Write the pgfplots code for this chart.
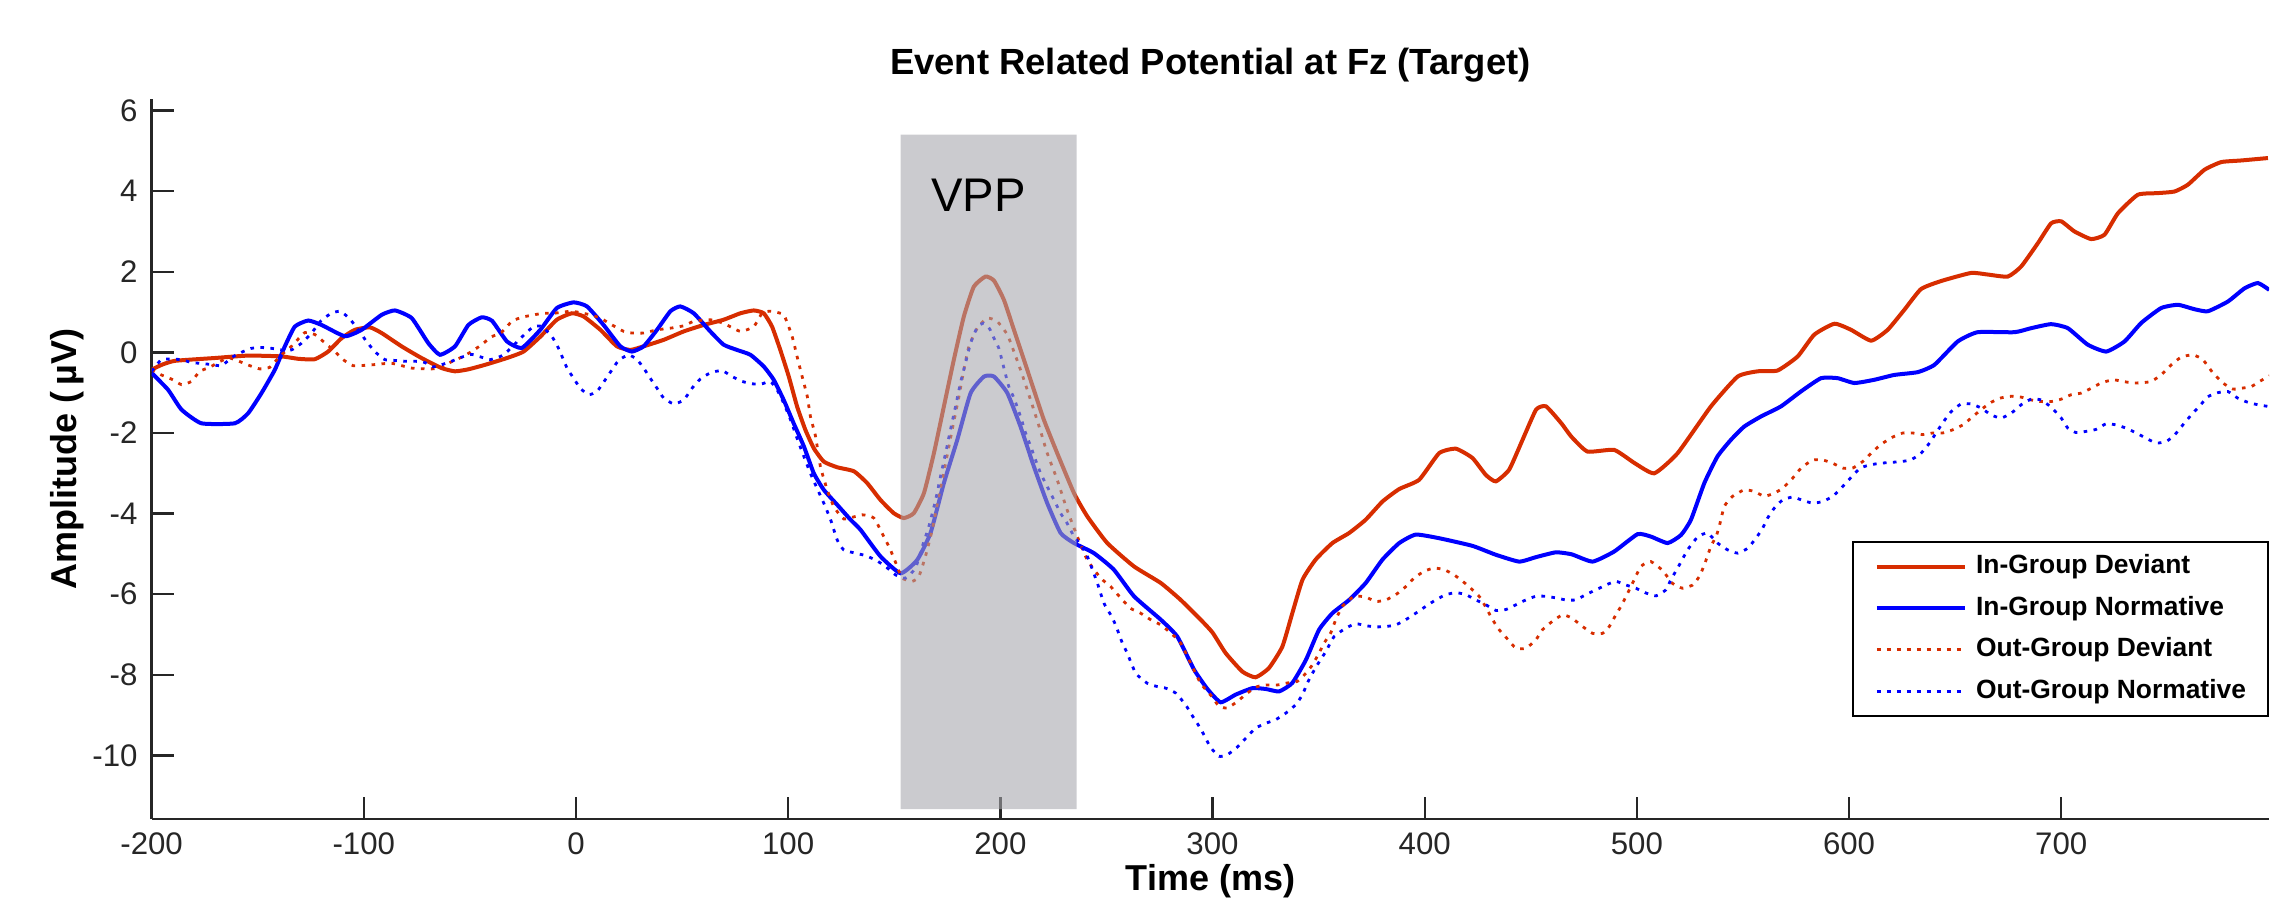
\documentclass[border=0pt]{standalone}
\usepackage{fontspec}
\setmainfont{Liberation Sans}
\usepackage{pgfplots}
\pgfplotsset{compat=1.18}
\definecolor{ered}{RGB}{215,45,0}
\definecolor{eblue}{RGB}{0,0,255}
\definecolor{patch}{RGB}{166,166,172}
\begin{document}
\begin{tikzpicture}
\path[use as bounding box] (-37.9pt,-20.2pt) rectangle (534.6pt,204.8pt);
\begin{axis}[
  scale only axis, width=529.4pt, height=180pt,
  xmin=-200, xmax=798, ymin=-11.58, ymax=6.28,
  axis x line*=bottom, axis y line*=left,
  axis line style={-, line width=0.6pt, black!85},
  tick align=inside, major tick length=5.5pt,
  every tick/.style={line width=0.6pt, black!85},
  xtick={-200,-100,...,700}, ytick={-10,-8,...,6},
  /pgf/number format/assume math mode=true,
  tick label style={font=\fontsize{7.8}{9}\selectfont, text=black!85},
  xticklabel style={anchor=base, yshift=-8.9pt},
  title={Event Related Potential at Fz (Target)},
  every axis title/.style={font=\bfseries\fontsize{9.1}{11}\selectfont, at={(axis description cs:0.5,1.0338)}, anchor=base},
  xlabel={Time (ms)},
  every axis x label/.style={at={(axis description cs:0.5,-0.0992)}, anchor=base, font=\bfseries\fontsize{9}{11}\selectfont},
  ylabel={Amplitude (\,µV)},
  every axis y label/.style={at={(axis description cs:-0.0399,0.5)}, anchor=center, rotate=90, font=\bfseries\fontsize{9}{11}\selectfont},
  legend style={at={(1,0.1417)}, anchor=south east, draw=black, line width=0.6pt,
    font=\bfseries\fontsize{6.6}{8}\selectfont, inner xsep=5.5pt, inner ysep=2.9pt,
    nodes={inner sep=0pt, text height=5pt, text depth=1.5pt}, row sep=3.9pt, column sep=2.3pt},
  legend cell align=left,
  legend image code/.code={\draw[#1] (0pt,0pt) -- (22pt,0pt);},
]
% In-Group Deviant
\addplot[ered, line width=1pt, smooth, tension=0.3] table {
x y
-200 -0.43
-195.3 -0.31
-189 -0.21
-170.2 -0.14
-154.5 -0.08
-138.8 -0.10
-130.9 -0.16
-123.1 -0.17
-116.8 0.02
-110.5 0.35
-104.2 0.56
-97.1 0.62
-91.6 0.48
-82.2 0.15
-72.8 -0.14
-63.3 -0.39
-57.0 -0.47
-50.7 -0.42
-42.9 -0.31
-32.5 -0.14
-24.7 0.02
-16.8 0.39
-9.0 0.81
-1.9 0.97
3.6 0.89
11.5 0.56
19.3 0.15
25.6 0.06
31.9 0.15
41.3 0.31
50.8 0.52
60.2 0.68
69.6 0.81
77.5 0.97
83.8 1.04
88.5 0.97
92.4 0.64
96.3 0.06
100.3 -0.60
104.2 -1.34
108.1 -1.92
112.1 -2.38
116.8 -2.71
123.1 -2.85
131.0 -2.95
137.2 -3.24
143.5 -3.66
149.8 -3.99
154.5 -4.11
159.2 -3.99
164.0 -3.49
168.7 -2.50
173.4 -1.34
178.1 -0.18
182.8 0.89
187.5 1.63
193.0 1.88
197.0 1.78
201.7 1.30
206.4 0.56
211.1 -0.18
215.8 -0.93
220.5 -1.67
226.8 -2.50
234.7 -3.49
241.0 -4.07
250.4 -4.73
263.0 -5.31
275.6 -5.72
285.0 -6.14
294.4 -6.63
300.0 -6.95
306.2 -7.46
314.1 -7.92
320.3 -8.06
326.6 -7.83
332.9 -7.30
337.6 -6.47
342.4 -5.64
348.6 -5.14
356.5 -4.73
364.4 -4.48
372.2 -4.15
380.1 -3.70
388.0 -3.39
397.4 -3.16
406.8 -2.50
414.7 -2.39
422.5 -2.62
428.8 -3.04
433.5 -3.20
439.8 -2.91
446.1 -2.17
452.5 -1.42
457.2 -1.34
464.4 -1.76
469.1 -2.09
476.7 -2.46
489.3 -2.42
499.0 -2.75
508.2 -3.00
519.2 -2.50
534.9 -1.34
547.5 -0.60
556.9 -0.47
566.3 -0.45
575.8 -0.10
583.6 0.44
593.1 0.71
600.9 0.56
610.4 0.29
618.2 0.56
626.1 1.06
633.9 1.57
643.4 1.77
657.5 1.97
665.4 1.93
674.8 1.88
681.1 2.13
689.0 2.71
695.2 3.20
700.0 3.25
706.2 3.00
714.1 2.81
720.4 2.92
726.7 3.45
736.1 3.91
745.5 3.95
753.4 3.99
759.7 4.16
767.5 4.53
775.4 4.72
784.8 4.76
797.4 4.82
};
\addlegendentry{In-Group Deviant}
% In-Group Normative
\addplot[eblue, line width=1pt, smooth, tension=0.3] table {
x y
-200 -0.51
-192.2 -0.93
-185.9 -1.42
-176.5 -1.76
-160.8 -1.76
-154.5 -1.51
-148.2 -1.01
-141.9 -0.43
-137.2 0.15
-132.5 0.64
-126.2 0.79
-119.9 0.68
-108.9 0.40
-101.0 0.56
-91.6 0.93
-85.3 1.04
-77.4 0.85
-69.6 0.23
-64.1 -0.06
-57.0 0.15
-50.7 0.68
-44.4 0.87
-39.5 0.78
-32.5 0.27
-25.5 0.11
-16.8 0.56
-9.0 1.10
-1.1 1.24
5.2 1.14
13.0 0.68
20.9 0.15
26.4 0.02
31.9 0.15
38.2 0.56
44.5 1.02
49.2 1.14
55.5 0.97
63.3 0.52
69.6 0.19
75.9 0.06
82.2 -0.06
88.5 -0.35
93.2 -0.68
97.9 -1.18
102.6 -1.76
107.4 -2.33
112.1 -3.00
116.8 -3.41
123.1 -3.78
129.4 -4.15
134.1 -4.40
143.5 -5.06
153.0 -5.48
160.8 -5.15
167.1 -4.48
173.4 -3.24
179.7 -2.17
186.0 -1.01
192.3 -0.60
197.0 -0.60
203.3 -1.01
209.5 -1.84
215.8 -2.83
222.1 -3.74
228.4 -4.48
234.7 -4.73
244.1 -4.98
253.5 -5.39
263.0 -6.05
275.6 -6.63
283.4 -7.05
291.3 -7.87
297.6 -8.35
303.8 -8.68
310.9 -8.49
318.8 -8.33
325.1 -8.35
331.4 -8.41
337.6 -8.20
344.0 -7.63
350.2 -6.88
356.5 -6.47
364.4 -6.14
372.2 -5.72
380.1 -5.14
388.0 -4.73
395.8 -4.52
406.8 -4.61
422.5 -4.80
433.5 -5.02
444.5 -5.19
452.4 -5.08
461.8 -4.96
469.3 -5.01
479.1 -5.19
489.3 -4.94
500.3 -4.51
506.6 -4.57
514.5 -4.73
520.8 -4.53
525.5 -4.15
531.8 -3.24
538.0 -2.58
544.3 -2.17
550.6 -1.84
558.5 -1.59
567.9 -1.34
577.3 -0.97
586.8 -0.64
594.6 -0.64
602.5 -0.76
611.9 -0.68
621.3 -0.56
632.4 -0.49
640.2 -0.31
651.2 0.27
660.6 0.50
677.9 0.50
685.8 0.60
695.2 0.70
703.1 0.60
712.5 0.19
721.2 0.02
729.8 0.27
737.7 0.73
747.1 1.10
755.0 1.18
762.8 1.07
769.1 1.02
778.5 1.26
786.4 1.59
792.7 1.72
798.0 1.55
};
\addlegendentry{In-Group Normative}
% Out-Group Deviant
\addplot[ered, line width=0.7pt, dash pattern=on 0.9pt off 1.6pt, smooth, tension=0.3] table {
x y
-200 -0.43
-195.4 -0.56
-189.9 -0.68
-185.9 -0.80
-181.2 -0.72
-177.3 -0.47
-172.6 -0.37
-167.9 -0.23
-163.1 -0.14
-153.7 -0.33
-149.0 -0.41
-144.3 -0.37
-139.6 -0.10
-134.1 0.15
-127.8 0.49
-123.0 0.44
-119.1 0.27
-114.4 0.06
-109.7 -0.18
-105.0 -0.33
-96.3 -0.31
-86.9 -0.27
-77.5 -0.39
-68.0 -0.41
-63.3 -0.37
-58.6 -0.23
-53.9 -0.12
-49.2 0.02
-44.5 0.19
-40.0 0.38
-35.0 0.50
-30.2 0.77
-25.5 0.87
-20.0 0.93
-15.3 0.97
-10.5 0.97
-1.9 1.02
6.8 0.93
11.5 0.85
17.0 0.68
22.5 0.52
26.4 0.48
31.9 0.48
38.2 0.56
44.5 0.60
50.8 0.66
55.5 0.77
63.3 0.81
69.6 0.72
77.5 0.52
83.8 0.64
87.7 0.97
91.6 1.02
97.9 0.93
101.9 0.39
104.2 -0.10
106.6 -0.60
109.0 -1.09
110.5 -1.59
112.9 -2.08
115.2 -2.83
118.4 -3.41
121.5 -3.82
126.2 -4.13
134.9 -4.03
140.4 -4.11
145.1 -4.57
148.2 -4.90
151.4 -5.31
153.7 -5.60
158.5 -5.68
161.6 -5.56
164.7 -5.06
167.9 -4.40
171.0 -3.57
174.2 -2.75
177.3 -1.92
180.5 -1.09
182.8 -0.43
185.2 0.15
189.1 0.60
193.8 0.85
198.5 0.77
203.3 0.44
206.4 0.02
209.5 -0.43
212.7 -0.93
215.8 -1.43
219.0 -1.96
222.1 -2.50
226.8 -3.16
231.5 -3.91
236.3 -4.57
241.0 -5.15
247.3 -5.60
252.0 -5.81
256.7 -6.09
261.4 -6.35
266.1 -6.47
270.8 -6.63
275.6 -6.76
280.3 -6.96
285.0 -7.21
289.7 -7.71
294.4 -8.21
299.1 -8.50
303.1 -8.78
307.0 -8.82
311.7 -8.66
316.4 -8.45
321.1 -8.29
325.9 -8.25
330.6 -8.25
335.3 -8.20
340.0 -8.16
344.0 -7.96
347.1 -7.75
350.2 -7.46
352.6 -7.21
355.7 -6.96
358.1 -6.63
361.2 -6.30
366.7 -6.05
372.2 -6.07
377.0 -6.18
381.7 -6.14
386.4 -6.01
391.1 -5.81
395.0 -5.60
399.7 -5.43
404.4 -5.35
409.2 -5.39
413.9 -5.52
418.6 -5.71
422.5 -5.89
426.4 -6.10
432.0 -6.63
435.1 -6.88
439.0 -7.11
443.0 -7.34
447.7 -7.34
452.4 -7.13
455.5 -6.88
460.2 -6.67
465.0 -6.51
469.3 -6.59
474.4 -6.80
479.1 -6.97
483.8 -6.97
487.0 -6.80
490.1 -6.51
492.5 -6.30
494.8 -6.06
497.2 -5.81
501.9 -5.31
506.6 -5.19
512.1 -5.41
516.8 -5.73
521.5 -5.85
526.3 -5.77
529.4 -5.56
531.8 -5.27
534.9 -4.81
537.3 -4.57
538.8 -4.32
541.2 -3.82
545.1 -3.57
550.6 -3.41
555.3 -3.45
560.1 -3.57
564.8 -3.49
568.7 -3.37
573.4 -3.12
577.4 -2.87
582.8 -2.67
587.6 -2.67
592.3 -2.75
597.0 -2.87
601.7 -2.87
606.4 -2.71
610.4 -2.50
615.1 -2.28
620.6 -2.10
625.3 -2.00
630.0 -2.00
634.7 -2.04
639.4 -2.00
644.1 -2.00
648.9 -1.92
653.6 -1.80
657.5 -1.63
662.2 -1.42
666.9 -1.24
671.6 -1.13
676.4 -1.09
681.1 -1.11
685.8 -1.18
690.5 -1.22
695.2 -1.22
700.0 -1.16
704.7 -1.05
709.4 -1.01
714.1 -0.89
718.8 -0.76
724.3 -0.68
729.0 -0.72
733.7 -0.76
738.5 -0.75
742.4 -0.72
747.1 -0.56
751.8 -0.31
756.5 -0.12
762.0 -0.06
766.7 -0.18
771.5 -0.51
776.2 -0.76
780.9 -0.91
784.8 -0.89
789.5 -0.85
793.5 -0.72
798.2 -0.58
};
\addlegendentry{Out-Group Deviant}
% Out-Group Normative
\addplot[eblue, line width=0.7pt, dash pattern=on 0.9pt off 1.6pt, smooth, tension=0.3] table {
x y
-200 -0.47
-195.4 -0.18
-190.6 -0.17
-185.9 -0.18
-181.2 -0.25
-172 -0.30
-167 -0.33
-162 -0.12
-157.7 0.00
-153.0 0.10
-148.2 0.12
-143.5 0.10
-138.8 0.06
-134.1 0.06
-129.3 0.23
-124.6 0.48
-119.9 0.80
-115.2 0.97
-111 1.02
-106.6 0.83
-102.6 0.56
-98.7 0.27
-94.8 0.02
-90.1 -0.18
-85.4 -0.20
-80.7 -0.22
-76.0 -0.22
-71.3 -0.25
-67.4 -0.36
-63.0 -0.30
-58.6 -0.22
-53.9 -0.12
-49.2 -0.05
-44.5 -0.12
-40.4 -0.18
-34.1 -0.06
-25.5 0.38
-20.0 0.64
-16.0 0.64
-11.3 0.39
-8.2 0.10
-4.2 -0.39
-1.1 -0.64
2.0 -0.89
6.0 -1.05
9.9 -0.97
13.8 -0.68
17.0 -0.43
20.1 -0.20
24.8 -0.06
28.8 -0.18
31.9 -0.39
35.0 -0.64
38.2 -0.89
41.3 -1.13
46.1 -1.28
50.8 -1.18
54.7 -0.89
58.6 -0.66
63.3 -0.51
68.8 -0.45
73.6 -0.60
78.3 -0.72
83.0 -0.78
87.7 -0.78
91.6 -0.72
94.8 -0.93
97.9 -1.26
101.1 -1.67
104.2 -2.13
107.4 -2.58
110.5 -3.00
113.6 -3.37
116.8 -3.74
120.0 -4.15
123.1 -4.65
126.2 -4.90
131.7 -4.98
136.4 -5.04
141.2 -5.15
145.9 -5.31
150.6 -5.52
155.3 -5.60
160.0 -5.35
163.2 -4.82
166.3 -4.32
169.5 -3.66
171.8 -3.08
174.2 -2.50
176.5 -1.92
178.9 -1.34
181.2 -0.76
183.6 -0.26
186.0 0.23
189.1 0.62
192.0 0.72
195.0 0.58
197.0 0.35
199.3 0.10
201.7 -0.39
204.0 -0.85
206.4 -1.13
209.5 -1.59
211.9 -2.00
214.3 -2.33
216.6 -2.67
219.0 -3.00
222.1 -3.33
225.3 -3.66
228.4 -3.99
231.5 -4.24
234.7 -4.57
237.8 -4.77
241.0 -5.06
245.7 -5.72
248.8 -6.22
252.0 -6.51
254.3 -6.76
257.5 -7.21
259.8 -7.46
263.8 -7.96
269.3 -8.21
274.0 -8.29
278.0 -8.33
282.6 -8.45
287.3 -8.74
289.7 -8.95
292.8 -9.20
296.0 -9.49
299.1 -9.80
303.1 -10.02
307.0 -9.98
311.7 -9.79
316.4 -9.53
320.3 -9.32
325.1 -9.20
329.8 -9.11
334.5 -8.95
339.2 -8.74
342.4 -8.49
344.7 -8.20
347.1 -7.96
349.4 -7.75
353.4 -7.42
357.3 -7.05
362.8 -6.84
367.5 -6.73
372.2 -6.78
377.0 -6.81
381.7 -6.80
386.4 -6.76
391.1 -6.63
395.8 -6.47
400.5 -6.30
405.2 -6.14
410.0 -6.01
414.7 -5.96
419.4 -6.01
424.1 -6.14
428.8 -6.26
433.5 -6.40
438.2 -6.38
443.0 -6.26
447.7 -6.14
452.4 -6.05
457.1 -6.05
461.8 -6.09
466.5 -6.14
471.2 -6.14
475.9 -6.01
480.7 -5.89
485.4 -5.77
490.1 -5.68
494.8 -5.77
499.5 -5.85
504.3 -5.97
509.0 -6.04
513.7 -5.89
516.0 -5.64
519.2 -5.35
523.9 -4.90
528.6 -4.58
533.3 -4.48
538.0 -4.73
542.8 -4.90
547.5 -4.98
552.2 -4.86
556.1 -4.61
559.3 -4.36
561.6 -4.11
564.8 -3.86
568.7 -3.66
573.4 -3.59
578.1 -3.67
582.8 -3.74
587.6 -3.70
592.3 -3.57
595.9 -3.39
600.6 -3.12
605.3 -2.87
610.0 -2.79
614.8 -2.75
619.5 -2.73
624.2 -2.71
628.9 -2.67
633.6 -2.52
637.9 -2.25
641.0 -2.00
644.1 -1.75
648.1 -1.47
652.8 -1.28
657.5 -1.28
662.2 -1.38
666.9 -1.55
671.6 -1.63
676.4 -1.51
681.1 -1.30
685.8 -1.16
690.5 -1.18
695.2 -1.36
700.0 -1.63
703.1 -1.88
707.0 -1.99
711.7 -1.96
716.4 -1.91
721.2 -1.77
725.9 -1.80
730.6 -1.88
735.3 -2.00
740.0 -2.13
744.7 -2.25
749.5 -2.21
753.4 -2.05
757.3 -1.80
761.3 -1.55
765.2 -1.33
769.1 -1.10
773.8 -1.00
778.5 -0.97
783.3 -1.14
788.0 -1.24
792.7 -1.30
797.4 -1.34
};
\addlegendentry{Out-Group Normative}
% VPP window
\addplot[draw=none, fill=patch, fill opacity=0.58, forget plot] coordinates {(153,-11.33) (236,-11.33) (236,5.40) (153,5.40) (153,-11.33)};
\node[font=\fontsize{11.8}{14}\selectfont] at (axis cs:189.6,3.9) {VPP};
\end{axis}
\end{tikzpicture}
\end{document}
